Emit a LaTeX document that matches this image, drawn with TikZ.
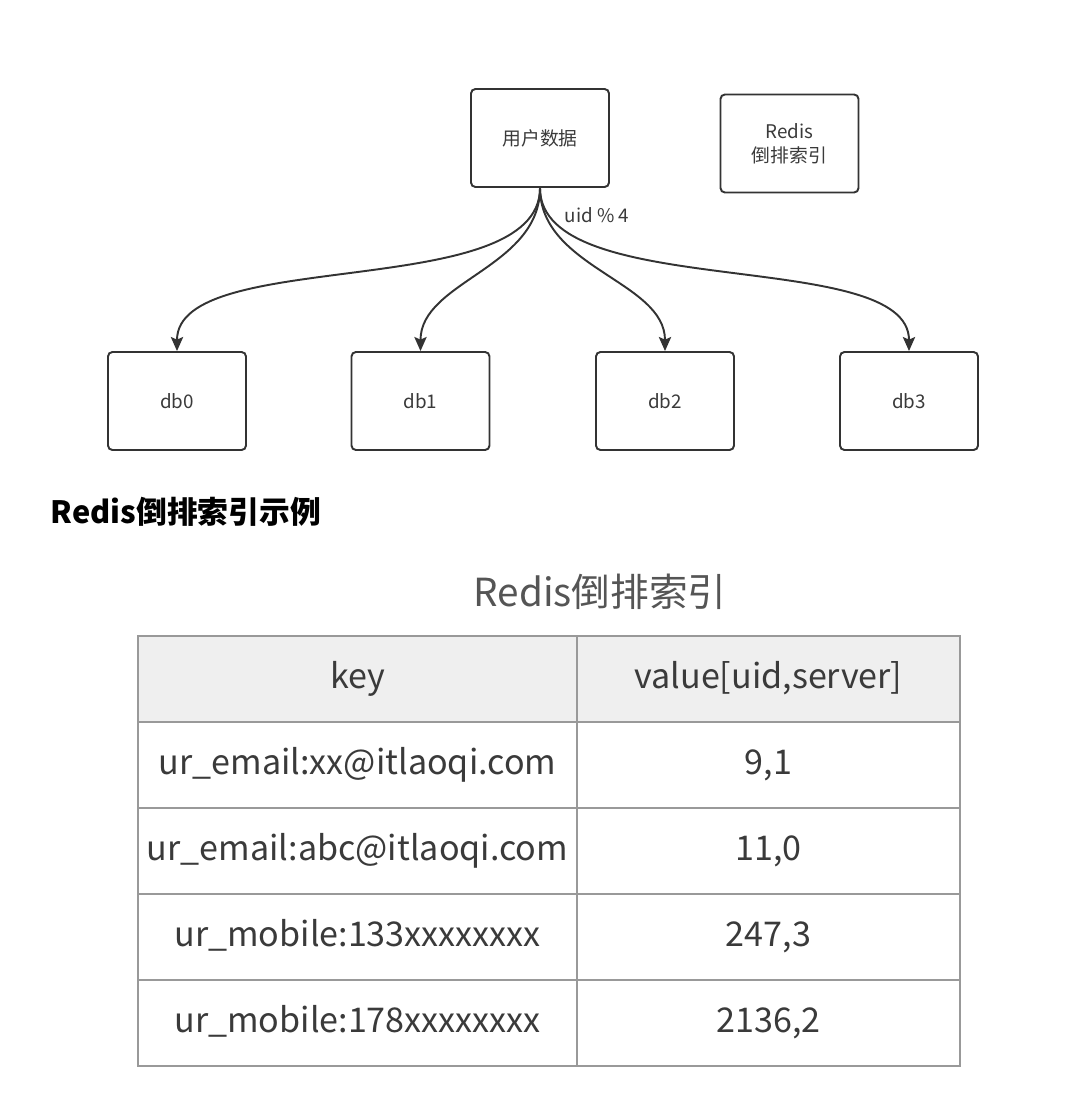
\documentclass[tikz,border=0pt]{standalone}
\usepackage{fontspec}
\setmainfont{Noto Sans CJK SC}
\usetikzlibrary{arrows.meta,positioning}
\definecolor{lineC}{HTML}{333333}
\definecolor{textC}{HTML}{3A3A3A}
\definecolor{gridC}{HTML}{999999}
\definecolor{headC}{HTML}{EFEFEF}
\definecolor{titleC}{HTML}{555555}

\begin{document}
\begin{tikzpicture}[x=0.02cm,y=-0.02cm,line width=1.1pt,
    >={Stealth[length=8pt,width=7pt,inset=1.5pt]}]
  \tikzstyle{boxN}=[rectangle,rounded corners=2.5pt,draw=lineC,line width=1.1pt,minimum width=2.76cm,minimum height=1.96cm,text=textC,align=center,font=\fontsize{10.7}{13.6}\selectfont]
  \tikzstyle{cellK}=[rectangle,draw=gridC,line width=1.1pt,outer sep=0pt,inner sep=0pt,minimum width=8.78cm,minimum height=1.72cm,text height=1.1em,text depth=0em,text=textC,font=\fontsize{19.4}{23}\selectfont]
  \tikzstyle{cellV}=[cellK,minimum width=7.66cm]
  \useasboundingbox (0,0) rectangle (1086,1102);

  % top part
  \node[boxN]          (n_user) at (540,138)   {用户数据};
  \node[boxN]          (n_redis) at (789.5,143.5) {Redis\\倒排索引};
  \node[boxN]          (n_db0) at (177,401)    {db0};
  \node[boxN]          (n_db1) at (420.5,401)  {db1};
  \node[boxN]          (n_db2) at (665,401)    {db2};
  \node[boxN]          (n_db3) at (909,401)    {db3};
  \node[text=textC,font=\fontsize{10.7}{13}\selectfont] (n_mod) at (597,215) {uid \% 4};

  \draw[->,draw=lineC] (n_user.south) .. controls +(0,115) and +(0,-105) .. (n_db0.north);
  \draw[->,draw=lineC] (n_user.south) .. controls +(0,80) and +(0,-70) .. (n_db1.north);
  \draw[->,draw=lineC] (n_user.south) .. controls +(0,80) and +(0,-70) .. (n_db2.north);
  \draw[->,draw=lineC] (n_user.south) .. controls +(0,115) and +(0,-105) .. (n_db3.north);

  % heading and table
  \node[anchor=west,inner sep=0pt,font=\bfseries\fontsize{17.5}{21}\selectfont] (n_head) at (50,512) {Redis倒排索引示例};
  \node[text=titleC,font=\fontsize{22}{26}\selectfont] (n_ttl) at (600,592) {Redis倒排索引};

  \node[cellK,fill=headC] (k_0) at (357.5,679) {key};
  \node[cellV,fill=headC] (v_0) [right=0pt of k_0] {value[uid,server]};
  \node[cellK] (k_1) [below=0pt of k_0] {ur\_email:xx@itlaoqi.com};
  \node[cellV] (v_1) [right=0pt of k_1] {9,1};
  \node[cellK] (k_2) [below=0pt of k_1] {ur\_email:abc@itlaoqi.com};
  \node[cellV] (v_2) [right=0pt of k_2] {11,0};
  \node[cellK] (k_3) [below=0pt of k_2] {ur\_mobile:133xxxxxxxx};
  \node[cellV] (v_3) [right=0pt of k_3] {247,3};
  \node[cellK] (k_4) [below=0pt of k_3] {ur\_mobile:178xxxxxxxx};
  \node[cellV] (v_4) [right=0pt of k_4] {2136,2};
\end{tikzpicture}
\end{document}
